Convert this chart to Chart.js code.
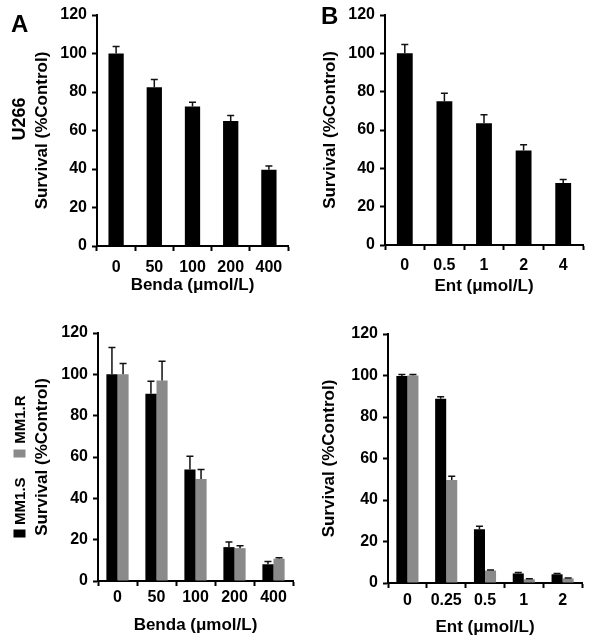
<!DOCTYPE html>
<html>
<head>
<meta charset="utf-8">
<script src="https://cdn.jsdelivr.net/npm/chart.js@4.4.1/dist/chart.umd.min.js"></script>
<style>
html, body { margin: 0; padding: 0; background: #fff; }
#page { position: relative; width: 593px; height: 643px; overflow: hidden;
  font-family: "Liberation Sans", Arial, sans-serif; font-weight: bold; color: #000; }
.panel { position: absolute; }
.tag { position: absolute; font-size: 24px; line-height: 1; }
.rot { position: absolute; white-space: nowrap; transform: rotate(-90deg); line-height: 1; }
.sq { display: inline-block; width: 12px; height: 12px; vertical-align: middle; }
</style>
</head>
<body>
<div id="page">
  <div class="panel" style="left:0;top:0;width:296px;height:300px"><canvas id="cA"></canvas></div>
  <div class="panel" style="left:296px;top:0;width:297px;height:300px"><canvas id="cB"></canvas></div>
  <div class="panel" style="left:0;top:300px;width:296px;height:343px"><canvas id="cC"></canvas></div>
  <div class="panel" style="left:296px;top:300px;width:297px;height:343px"><canvas id="cD"></canvas></div>

  <div class="tag" style="left:11px;top:12px">A</div>
  <div class="tag" style="left:321px;top:4px">B</div>
  <div class="rot" style="left:-3px;top:110px;width:44px;height:18px;font-size:18px;text-align:center">U266</div>
  <div class="rot" style="left:-52px;top:459px;width:142px;height:15px;font-size:15px;display:flex;align-items:center">
    <span class="sq" style="background:#000"></span><span style="margin-left:5px">MM1.S</span>
    <span class="sq" style="background:#8a8a8a;margin-left:20px"></span><span style="margin-left:6px">MM1.R</span>
  </div>
</div>

<script>
// --- datos ---
const catsBenda = ['0', '50', '100', '200', '400']
const catsEntU266 = ['0', '0.5', '1', '2', '4']
const catsEntMM1 = ['0', '0.25', '0.5', '1', '2']

// A: U266 + bendamustina
const u266Benda = [100, 82.5, 72.5, 65, 39.6]
const u266BendaErr = [3.6, 4, 2.2, 2.8, 2]

// B: U266 + entinostat
const u266Ent = [100, 75, 63.5, 49.3, 32.4]
const u266EntErr = [4.6, 4.2, 4.5, 3, 1.8]

// C: MM1.S / MM1.R + bendamustina
const mm1sBenda = [100, 90.6, 54, 16.4, 8.1]
const mm1sBendaErr = [13, 6, 6.4, 2.5, 1.3]
const mm1rBenda = [100, 97, 49.3, 15.9, 10.8]
const mm1rBendaErr = [5.3, 9.3, 4.6, 1.1, 0.5]

// D: MM1.S / MM1.R + entinostat
const mm1sEnt = [99.7, 88.8, 25.9, 4.6, 4.2]
const mm1sEntErr = [0.8, 1, 1.4, 0.5, 0.4]
const mm1rEnt = [100, 49.6, 6, 1.8, 2.2]
const mm1rEntErr = [0.5, 1.8, 0.3, 0.2, 0.2]

const BLACK = '#000'
const GREY = '#8a8a8a'
const FONT = '"Liberation Sans", Arial, sans-serif'

// barras de error (solo hacia arriba, con tapa)
const errorBars = {
  id: 'errorBars',
  afterDatasetsDraw(chart) {
    const ctx = chart.ctx
    const y = chart.scales.y
    chart.data.datasets.forEach((ds, di) => {
      if (!ds.errors) return
      const meta = chart.getDatasetMeta(di)
      ctx.save()
      ctx.strokeStyle = '#111'
      ctx.lineWidth = 1.5
      meta.data.forEach((bar, i) => {
        const top = y.getPixelForValue(ds.data[i] + ds.errors[i])
        ctx.beginPath()
        ctx.moveTo(bar.x, bar.y)
        ctx.lineTo(bar.x, top)
        ctx.moveTo(bar.x - 3.5, top)
        ctx.lineTo(bar.x + 3.5, top)
        ctx.stroke()
      })
      ctx.restore()
    })
  }
}

function makeChart(id, labels, datasets, g) {
  return new Chart(document.getElementById(id), {
    type: 'bar',
    data: { labels, datasets },
    plugins: [errorBars],
    options: {
      responsive: true, maintainAspectRatio: false, animation: false,
      layout: { padding: g.pad },
      plugins: { legend: { display: false }, tooltip: { enabled: false } },
      scales: {
        x: {
          offset: true,
          grid: { offset: true, drawOnChartArea: false, drawTicks: true, tickLength: 5, tickWidth: 2, tickColor: BLACK },
          border: { color: BLACK, width: 2 },
          ticks: { color: BLACK, font: { family: FONT, size: 16, weight: 'bold' }, padding: g.tickPadX, maxRotation: 0, autoSkip: false },
          title: { display: true, text: g.xTitle, color: BLACK, font: { family: FONT, size: 17, weight: 'bold' }, padding: { top: 0, bottom: g.xTitlePad } },
          afterFit: s => { s.height = g.xH }
        },
        y: {
          min: 0, max: 120,
          ticks: { stepSize: 20, color: BLACK, font: { family: FONT, size: 16, weight: 'bold' }, padding: 5 },
          grid: { drawOnChartArea: false, drawTicks: true, tickLength: 5, tickWidth: 2, tickColor: BLACK },
          border: { color: BLACK, width: 2 },
          title: { display: true, text: 'Survival (%Control)', color: BLACK, font: { family: FONT, size: 17, weight: 'bold' }, padding: { top: g.yTitlePad, bottom: 0 } },
          afterFit: s => { s.width = g.yW }
        }
      }
    }
  })
}

const single = { barPercentage: 0.4, categoryPercentage: 1 }
const pair = { barPercentage: 1, categoryPercentage: 0.57 }

makeChart('cA', catsBenda, [
  { data: u266Benda, errors: u266BendaErr, backgroundColor: BLACK, ...single }
], { pad: { top: 15, right: 8, left: 0, bottom: 0 }, yW: 97, xH: 54, tickPadX: 6.5, xTitlePad: 4, yTitlePad: 32, xTitle: 'Benda (\u03bcmol/L)' })

makeChart('cB', catsEntU266, [
  { data: u266Ent, errors: u266EntErr, backgroundColor: BLACK, ...single }
], { pad: { top: 15, right: 10, left: 0, bottom: 0 }, yW: 89, xH: 55, tickPadX: 6, xTitlePad: 3, yTitlePad: 24, xTitle: 'Ent (\u03bcmol/L)' })

makeChart('cC', catsBenda, [
  { label: 'MM1.S', data: mm1sBenda, errors: mm1sBendaErr, backgroundColor: BLACK, ...pair },
  { label: 'MM1.R', data: mm1rBenda, errors: mm1rBendaErr, backgroundColor: GREY, ...pair }
], { pad: { top: 33, right: 3, left: 0, bottom: 0 }, yW: 98, xH: 62, tickPadX: 2, xTitlePad: 7, yTitlePad: 32, xTitle: 'Benda (\u03bcmol/L)' })

makeChart('cD', catsEntMM1, [
  { label: 'MM1.S', data: mm1sEnt, errors: mm1sEntErr, backgroundColor: BLACK, ...pair },
  { label: 'MM1.R', data: mm1rEnt, errors: mm1rEntErr, backgroundColor: GREY, ...pair }
], { pad: { top: 34, right: 11, left: 0, bottom: 0 }, yW: 92, xH: 60, tickPadX: 3, xTitlePad: 5, yTitlePad: 23, xTitle: 'Ent (\u03bcmol/L)' })
</script>
</body>
</html>
